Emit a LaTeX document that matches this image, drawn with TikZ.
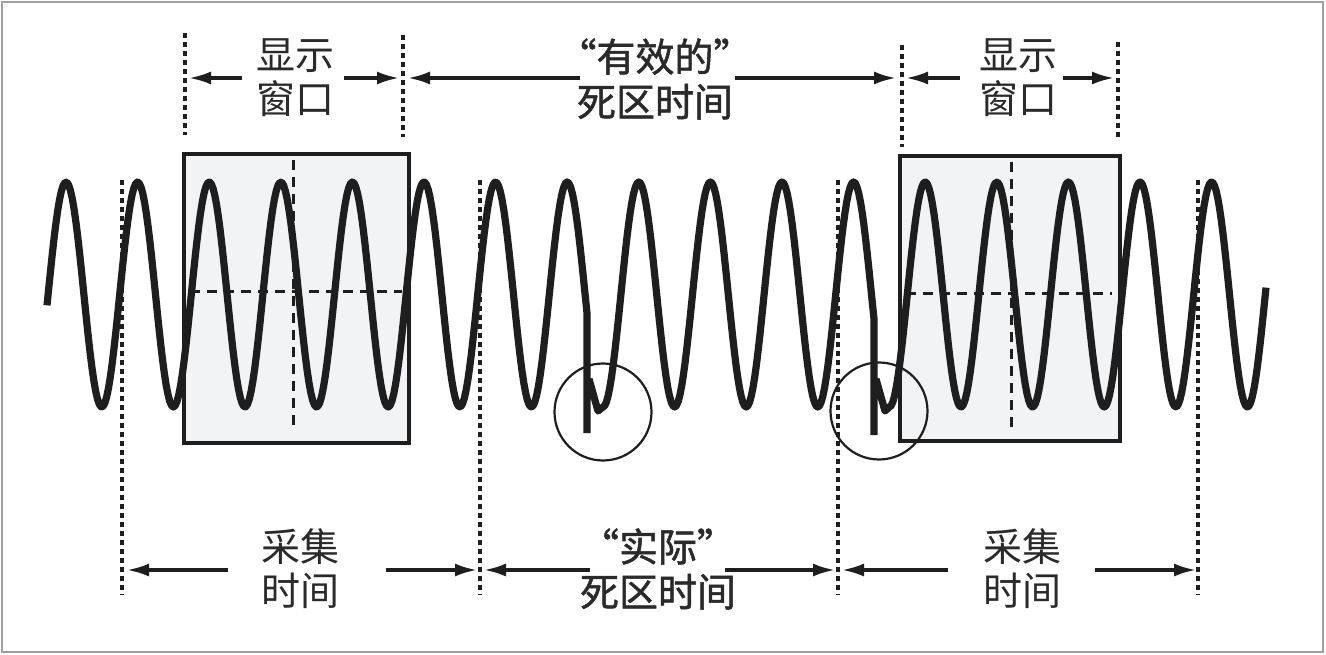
\documentclass[tikz,border=0pt]{standalone}
\usepackage{fontspec}
\newfontfamily\cjk{Noto Sans CJK SC}
\newfontfamily\cjkb[FakeBold=1.3]{Noto Sans CJK SC}
\usetikzlibrary{arrows.meta}
\definecolor{ink}{HTML}{1E1E1E}
\definecolor{txt}{HTML}{2A2A2A}
\definecolor{boxfill}{HTML}{F2F3F5}
\definecolor{frame}{HTML}{A0A0A0}
\begin{document}
\begin{tikzpicture}[x=1pt,y=-1pt,
  wave/.style={line width=7.2pt, draw=ink, line join=round},
  scopebox/.style={line width=4.2pt, draw=ink, fill=boxfill},
  cross/.style={line width=3pt, draw=ink, dash pattern=on 10pt off 7pt},
  guide/.style={line width=3.3pt, draw=ink, dash pattern=on 5pt off 4pt},
  dimarrow/.style={line width=3.2pt, draw=ink, -{Latex[length=22pt,width=13pt]}},
  lab/.style={align=center, text=txt, inner sep=0pt, font=\cjk\fontsize{39pt}{44pt}\selectfont},
  labb/.style={align=center, text=txt, inner sep=0pt, font=\cjkb\fontsize{39pt}{45pt}\selectfont},
  ring/.style={circle, draw=ink, line width=2.2pt, minimum size=97pt, inner sep=0pt}]
\useasboundingbox (0,0) rectangle (1326,655);
\fill[white] (0,0) rectangle (1326,655);
\draw[frame, line width=2pt] (2,2) rectangle (1323,652);

% display window boxes
\draw[scopebox] (184,154) rectangle (409,443);
\draw[scopebox] (900,156) rectangle (1120,441);
\draw[cross] (190,292) -- (402,292);
\draw[cross] (293,160) -- (293,432);
\draw[cross] (906,294) -- (1112,294);
\draw[cross] (1011,162) -- (1011,432);

% top guides
\coordinate (t1a) at (185,33);  \coordinate (t1b) at (185,135);
\coordinate (t2a) at (403,35);  \coordinate (t2b) at (403,137);
\coordinate (t3a) at (902,45);  \coordinate (t3b) at (902,147);
\coordinate (t4a) at (1118,42); \coordinate (t4b) at (1118,140);
\draw[guide] (t1a) -- (t1b);
\draw[guide] (t2a) -- (t2b);
\draw[guide] (t3a) -- (t3b);
\draw[guide] (t4a) -- (t4b);

% bottom guides
\coordinate (b1a) at (122,180); \coordinate (b1b) at (122,595);
\coordinate (b2a) at (480,180); \coordinate (b2b) at (480,595);
\coordinate (b3a) at (838,180); \coordinate (b3b) at (838,595);
\coordinate (b4a) at (1198,180);\coordinate (b4b) at (1198,595);
\draw[guide] (b1a) -- (b1b);
\draw[guide] (b2a) -- (b2b);
\draw[guide] (b3a) -- (b3b);
\draw[guide] (b4a) -- (b4b);

% waveform
\draw[wave]
  plot[domain=47:587, samples=300] (\x, {294.5-112.5*cos((\x-66)*5.02793)})
  -- (587,433)
  (589,379) -- (598,411)
  -- plot[domain=603:874, samples=160] (\x, {294.5-112.5*cos((\x-66)*5.02793)})
  -- (874,435)
  (876,379) -- (885,411)
  -- plot[domain=889.4:1266, samples=220] (\x, {294.5-112.5*cos((\x-66)*5.02793)});

% glitch circles
\node[ring] (g1) at (603,412) {};
\node[ring] (g2) at (879,411) {};

% top labels
\node[lab] (L1) at (295,78) {显示\\窗口};
\node[labb] (L2) at (655,79) {“有效的”\\死区时间};
\node[lab] (L3) at (1018,78) {显示\\窗口};

\coordinate (a1s) at (242,78);  \coordinate (a1e) at (189,78);
\coordinate (a2s) at (344,78);  \coordinate (a2e) at (399,78);
\coordinate (a3s) at (580,78);  \coordinate (a3e) at (408,78);
\coordinate (a4s) at (735,78);  \coordinate (a4e) at (896,78);
\coordinate (a5s) at (960,78);  \coordinate (a5e) at (906,78);
\coordinate (a6s) at (1063,78); \coordinate (a6e) at (1114,78);
\draw[dimarrow] (a1s) -- (a1e);
\draw[dimarrow] (a2s) -- (a2e);
\draw[dimarrow] (a3s) -- (a3e);
\draw[dimarrow] (a4s) -- (a4e);
\draw[dimarrow] (a5s) -- (a5e);
\draw[dimarrow] (a6s) -- (a6e);

% bottom labels
\node[lab] (B1) at (300,569) {采集\\时间};
\node[labb] (B2) at (658,569) {“实际”\\死区时间};
\node[lab] (B3) at (1022,569) {采集\\时间};

\coordinate (c1s) at (228,570);  \coordinate (c1e) at (127,570);
\coordinate (c2s) at (386,570);  \coordinate (c2e) at (477,570);
\coordinate (c3s) at (590,570);  \coordinate (c3e) at (484,570);
\coordinate (c4s) at (725,570);  \coordinate (c4e) at (835,570);
\coordinate (c5s) at (948,570);  \coordinate (c5e) at (842,570);
\coordinate (c6s) at (1095,570); \coordinate (c6e) at (1196,570);
\draw[dimarrow] (c1s) -- (c1e);
\draw[dimarrow] (c2s) -- (c2e);
\draw[dimarrow] (c3s) -- (c3e);
\draw[dimarrow] (c4s) -- (c4e);
\draw[dimarrow] (c5s) -- (c5e);
\draw[dimarrow] (c6s) -- (c6e);
\end{tikzpicture}
\end{document}
